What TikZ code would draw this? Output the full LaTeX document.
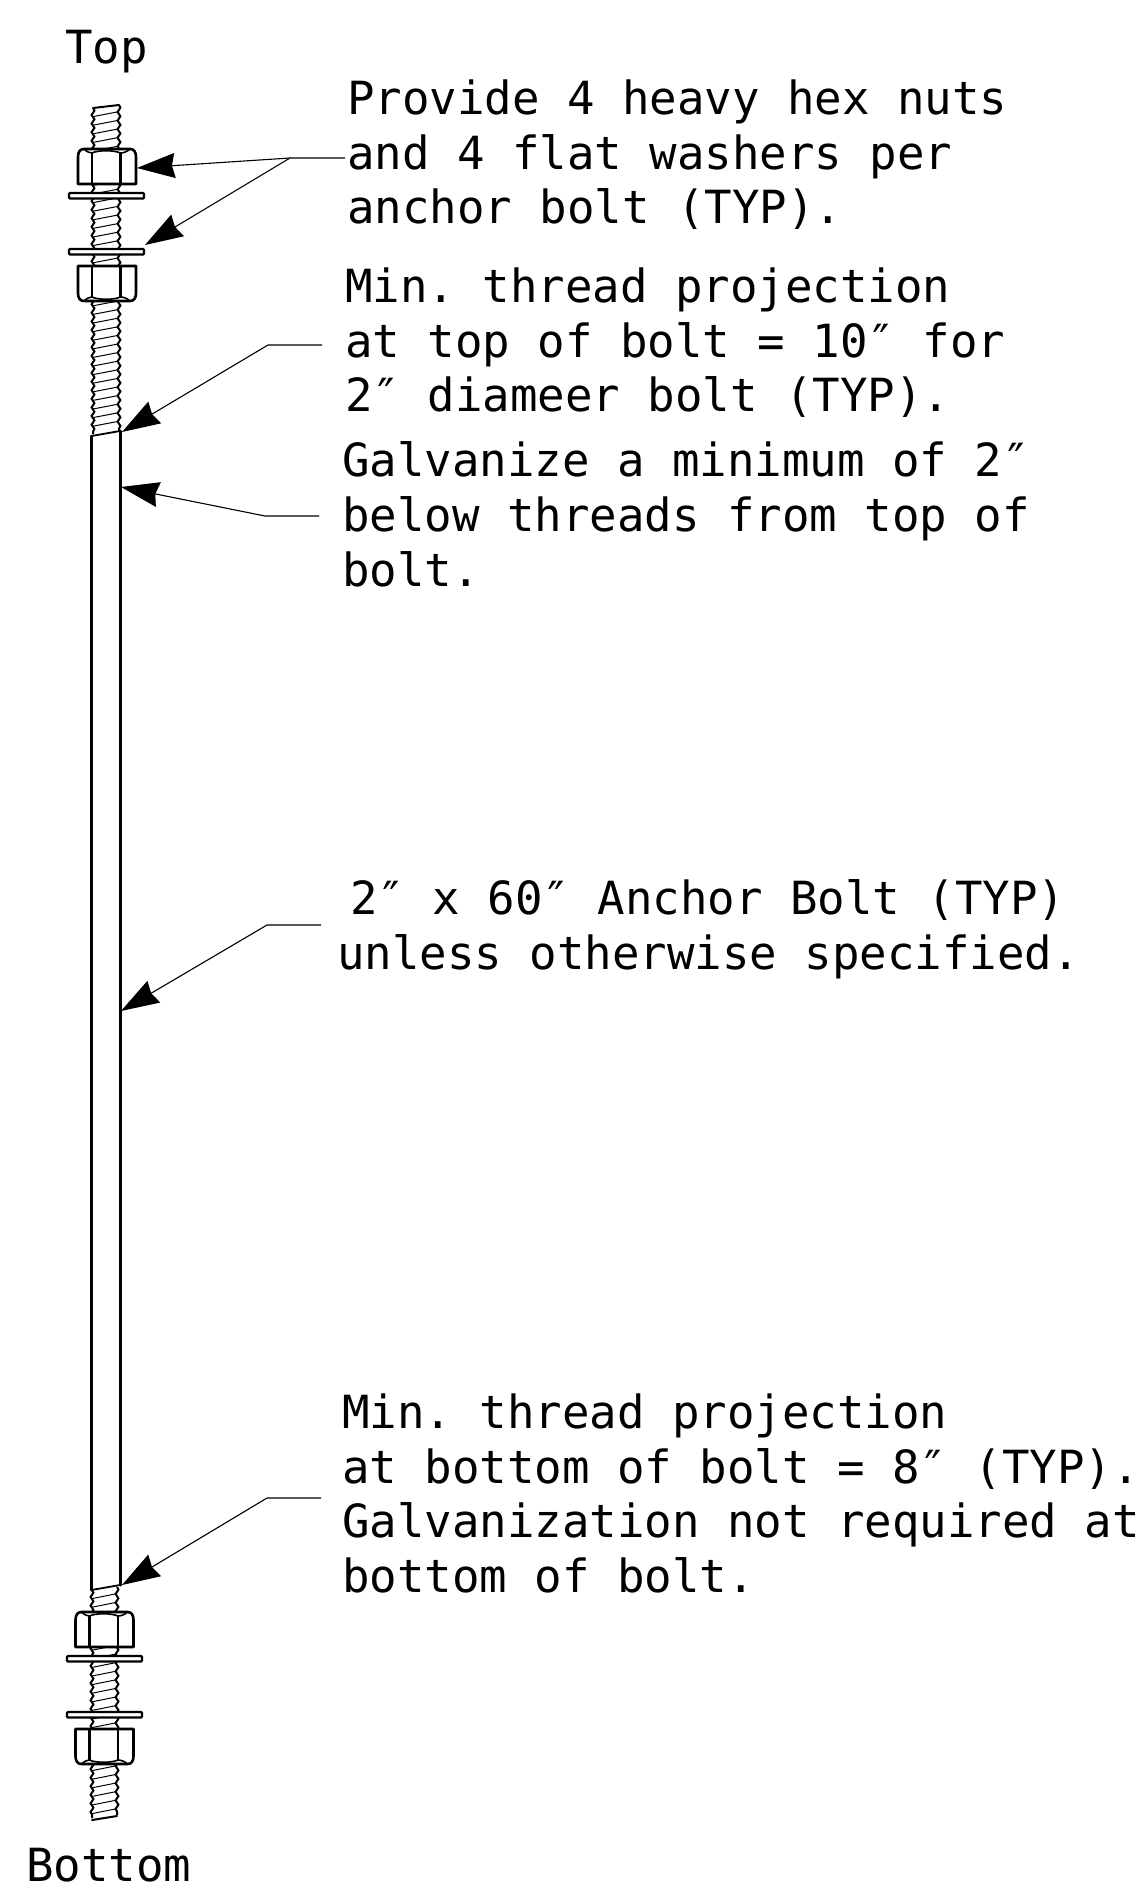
\documentclass[tikz,border=0pt]{standalone}
\usepackage{fontspec}
\setmonofont{DejaVu Sans Mono}
\usetikzlibrary{arrows.meta,decorations.pathmorphing}
\tikzset{
  x=1pt,y=-1pt,
  note/.style={font=\ttfamily\fontsize{45.7}{54.6}\selectfont,inner sep=0pt,outer sep=0pt,align=left,anchor=north west,text=black},
  endlabel/.style={font=\ttfamily\fontsize{45.7}{54.6}\selectfont,inner sep=0pt,outer sep=0pt,anchor=base west,text=black},
  boltline/.style={line width=3pt,line cap=round,line join=round},
  threadedge/.style={line width=2pt,decorate,decoration={snake,segment length=8.6pt,amplitude=1.4pt}},
  threadline/.style={line width=1pt},
  leader/.style={line width=1.1pt,line join=miter,-{Stealth[length=38pt,width=25pt,inset=3pt]}},
}
\newcommand{\threadrun}[4]{% xl, xr, ytop, ybottom
  \draw[threadedge] (#1,#3) -- (#1,#4);
  \draw[threadedge] (#2,#3-3) -- (#2,#4-3);
  \pgfmathsetmacro{\ystart}{#3+8.6}
  \pgfmathsetmacro{\ynext}{#3+17.2}
  \foreach \yy in {\ystart,\ynext,...,#4}
    \draw[threadline] (#1,\yy) -- (#2,\yy-5);
}
\newcommand{\hexnut}[3]{% left x, chamfer-side y, direction
  \begin{scope}[shift={(#1,#2)},yscale=#3]
    \draw[boltline,line width=2.6pt,fill=white] (0,35) -- (0,8) .. controls (0,3) and (2,0) .. (6,0) -- (52,0) .. controls (56,0) and (58,3) .. (58,8) -- (58,35) -- cycle;
    \draw[line width=2.2pt] (14,35) -- (14,4) (42.5,35) -- (42.5,4);
    \draw[line width=1.6pt] (6,0) .. controls (9,3) and (12,4) .. (14,4) .. controls (20,1) and (36,1) .. (42.5,4) .. controls (45,4) and (49,3) .. (52,0);
  \end{scope}
}
\newcommand{\washerbar}[3]{% left x, top y, right x
  \draw[line width=2.2pt,fill=white,rounded corners=1pt] (#1,#2) rectangle (#3,#2+5.5);
}
\begin{document}
\begin{tikzpicture}
\useasboundingbox (0,0) rectangle (1144,1888);
% bolt
\threadrun{93}{119}{108}{434}
\draw[boltline,line width=2pt] (93,108) -- (119,105);
\threadrun{92}{117}{1590}{1818}
\draw[boltline,line width=2pt] (92,1820) -- (117,1816);
\draw[boltline] (91.5,436) -- (91.5,1590);
\draw[boltline] (120,431) -- (120,1585);
\draw[line width=1.8pt] (91.5,436) -- (120,431);
\draw[line width=1.8pt] (91.5,1590) -- (120,1585);
\hexnut{78}{149}{1}
\washerbar{69}{193}{144}
\washerbar{69}{249}{144}
\hexnut{78}{301}{-1}
\hexnut{75.5}{1612}{1}
\washerbar{67}{1656}{142}
\washerbar{67}{1712}{142}
\hexnut{75.5}{1764}{-1}
% texts
\node[endlabel] (top) at (65,63) {Top};
\node[endlabel] (bottom) at (26,1881) {Bottom};
\node[note] (n1) at (347,80) {Provide 4 heavy hex nuts\\and 4 flat washers per\\anchor bolt (TYP).};
\node[note] (n2) at (345,268) {Min. thread projection\\at top of bolt = 10″ for\\2″ diameer bolt (TYP).};
\node[note] (n3) at (342,442) {Galvanize a minimum of 2″\\below threads from top of\\bolt.};
\node[note] (n4) at (337,880) {\hspace*{13pt}2″ x 60″ Anchor Bolt (TYP)\\unless otherwise specified.};
\node[note] (n5) at (342,1394) {Min. thread projection\\at bottom of bolt = 8″ (TYP).\\Galvanization not required at\\bottom of bolt.};
% leaders
\coordinate (s1) at (345,158); \coordinate (e1) at (290,158);
\coordinate (nuttip) at (137,168); \coordinate (washertip) at (145,245);
\coordinate (s2) at (322,345); \coordinate (e2) at (268,345); \coordinate (thrtip) at (122,432);
\coordinate (s3) at (319,516); \coordinate (e3) at (265,516); \coordinate (galvtip) at (121,487);
\coordinate (s4) at (321,925); \coordinate (e4) at (267,925); \coordinate (shanktip) at (121,1011);
\coordinate (s5) at (321,1498); \coordinate (e5) at (267,1498); \coordinate (bottip) at (122,1585);
\draw[leader] (s1) -- (e1) -- (nuttip);
\draw[leader] (e1) -- (washertip);
\draw[leader] (s2) -- (e2) -- (thrtip);
\draw[leader] (s3) -- (e3) -- (galvtip);
\draw[leader] (s4) -- (e4) -- (shanktip);
\draw[leader] (s5) -- (e5) -- (bottip);
\end{tikzpicture}
\end{document}
